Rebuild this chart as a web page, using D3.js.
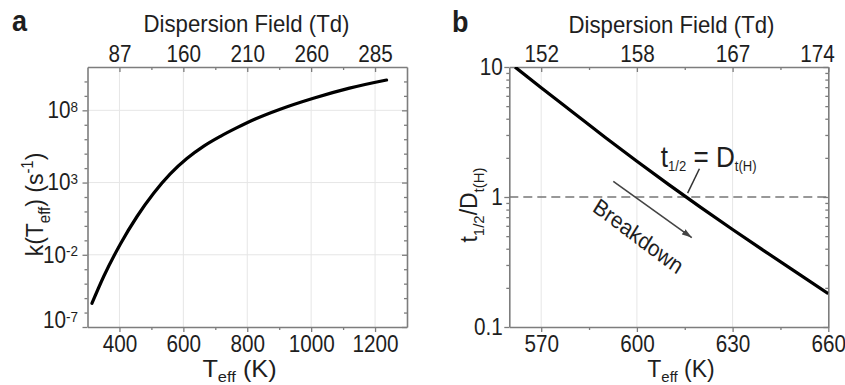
<!DOCTYPE html>
<html>
<head>
<meta charset="utf-8">
<script src="https://cdn.jsdelivr.net/npm/d3@7"></script>
<style>
  body { margin: 0; background: #fff; }
  text { font-family: "Liberation Sans", Arial, sans-serif; }
</style>
</head>
<body>
<svg id="chart"></svg>
<script>
// ---- panel a : k(Teff) vs Teff ----
const aTeff = [314, 351, 403, 455, 507, 559, 611, 664, 716, 768, 825, 903, 1007, 1120, 1236];
const aLog10K = [-5.36, -3.49, -1.25, 0.65, 2.26, 3.60, 4.66, 5.52, 6.20, 6.80, 7.40, 8.08, 8.84, 9.54, 10.1];
const aXTicks = [400, 600, 800, 1000, 1200];
const aXMinor = [500, 700, 900, 1100];
const aTopLabels = ["87", "160", "210", "260", "285"];
const aYExp = [-7, -2, 3, 8];

// ---- panel b : t1/2 / Dt(H) vs Teff ----
const bTeff = [561.8, 570, 580, 590, 600, 610, 620, 630, 640, 650, 660];
const bLog10Ratio = [1.0, 0.84, 0.65, 0.46, 0.275, 0.095, -0.08, -0.25, -0.416, -0.58, -0.743];
const bXTicks = [570, 600, 630, 660];
const bXMinor = [585, 615, 645];
const bTopLabels = ["152", "158", "167", "174"];
const bYTicks = [0.1, 1, 10];

const width = 845, height = 385;
const SX = 0.9; // tick text in the reference is a bit narrower than tall
const AXIS = "#7d7d7d", INK = "#1e1e1e", GRID = "#e6e6e6";

const svg = d3.select("#chart").attr("width", width).attr("height", height);

svg.append("defs").append("marker")
  .attr("id", "arrow")
  .attr("markerUnits", "userSpaceOnUse")
  .attr("markerWidth", 12).attr("markerHeight", 8)
  .attr("refX", 10).attr("refY", 4)
  .attr("orient", "auto")
  .append("path").attr("d", "M0,0.8 L10,4 L0,7.2 Z").attr("fill", "#444");

// text with sub/superscripts
function rich(parent, x, y, parts, size, opts = {}) {
  let tr = `translate(${x},${y}) scale(${opts.sx || SX},1)`;
  if (opts.rotate) tr += ` rotate(${opts.rotate})`;
  const t = parent.append("text")
    .attr("transform", tr)
    .attr("font-size", size)
    .attr("font-weight", opts.weight || null)
    .attr("text-anchor", opts.anchor || "middle")
    .attr("fill", INK);
  const small = opts.small || 0.65, sub = opts.sub || 0.3;
  let shift = 0;
  parts.forEach(p => {
    const kind = p[1];
    const target = kind === "sub" ? size * sub : kind === "sup" ? -size * 0.42 : 0;
    t.append("tspan")
      .attr("dy", target - shift)
      .attr("font-size", kind ? size * small : size)
      .text(p[0]);
    shift = target;
  });
  return t;
}

function styleAxis(g) {
  g.attr("font-family", null).attr("font-size", 23);
  g.select(".domain").attr("stroke", AXIS).attr("stroke-width", 1.6);
  g.selectAll(".tick line").attr("stroke", AXIS).attr("stroke-width", 1.3);
  g.selectAll(".tick text").attr("fill", INK).each(function () {
    const t = d3.select(this);
    const x = +t.attr("x") || 0, y = +t.attr("y") || 0;
    t.attr("x", null).attr("y", null)
      .attr("transform", `translate(${x},${y}) scale(${SX},1)`);
  });
}

function frame(g, x, y, o) {
  const [x0, x1] = x.range();
  const [y0, y1] = y.range();

  // grid
  g.append("g").selectAll("line").data(o.xGrid).join("line")
    .attr("x1", d => x(d)).attr("x2", d => x(d))
    .attr("y1", y0).attr("y2", y1)
    .attr("stroke", GRID).attr("stroke-width", 1);
  g.append("g").selectAll("line").data(o.yGrid).join("line")
    .attr("x1", x0).attr("x2", x1)
    .attr("y1", d => y(d)).attr("y2", d => y(d))
    .attr("stroke", GRID).attr("stroke-width", 1);

  const noDomain = s => s.select(".domain").remove();

  // bottom
  g.append("g").attr("transform", `translate(0,${y0})`)
    .call(d3.axisBottom(x).tickValues(o.xMinor).tickSize(3).tickFormat(""))
    .call(styleAxis).call(noDomain);
  g.append("g").attr("transform", `translate(0,${y0})`)
    .call(d3.axisBottom(x).tickValues(o.xTicks).tickSize(5).tickSizeOuter(0).tickPadding(4)
      .tickFormat(d3.format("d")))
    .call(styleAxis);

  // top (ticks inward)
  g.append("g").attr("transform", `translate(0,${y1})`)
    .call(d3.axisTop(x).tickValues(o.xMinor).tickSizeInner(-3).tickSizeOuter(0).tickFormat(""))
    .call(styleAxis).call(noDomain);
  g.append("g").attr("transform", `translate(0,${y1})`)
    .call(d3.axisTop(x).tickValues(o.xTicks).tickSizeInner(-5).tickSizeOuter(0).tickPadding(5)
      .tickFormat((d, i) => o.topLabels[i]))
    .call(styleAxis)
    .call(s => s.selectAll(".tick text").attr("dy", "0em"));

  // left
  g.append("g").attr("transform", `translate(${x0},0)`)
    .call(d3.axisLeft(y).tickValues(o.yMinor).tickSize(3).tickFormat(""))
    .call(styleAxis).call(noDomain);
  const left = g.append("g").attr("transform", `translate(${x0},0)`)
    .call(d3.axisLeft(y).tickValues(o.yTicks).tickSize(5).tickSizeOuter(0).tickPadding(o.leftPad)
      .tickFormat(o.yFormat || null))
    .call(styleAxis);

  // right (ticks inward)
  g.append("g").attr("transform", `translate(${x1},0)`)
    .call(d3.axisRight(y).tickValues(o.yMinor).tickSizeInner(-3).tickSizeOuter(0).tickFormat(""))
    .call(styleAxis).call(noDomain);
  g.append("g").attr("transform", `translate(${x1},0)`)
    .call(d3.axisRight(y).tickValues(o.yTicks).tickSizeInner(-5).tickSizeOuter(0).tickFormat(""))
    .call(styleAxis);

  return left;
}

// ================= panel a =================
const ax = d3.scaleLinear().domain([300, 1300]).range([87.5, 407]);
const ay = d3.scaleLog().domain([1e-7, 1e11]).range([327, 67]);
const ga = svg.append("g");

const aYMinor = d3.range(-6, 11).filter(e => !aYExp.includes(e)).map(e => Math.pow(10, e));
const aLeft = frame(ga, ax, ay, {
  xTicks: aXTicks, xMinor: aXMinor, topLabels: aTopLabels,
  yTicks: aYExp.map(e => Math.pow(10, e)), yMinor: aYMinor,
  xGrid: aXTicks, yGrid: aYExp.slice(1).map(e => Math.pow(10, e)),
  leftPad: 4.5, yFormat: () => ""
});
// 10^n labels
aLeft.selectAll(".tick text").each(function (d) {
  const t = d3.select(this);
  const e = Math.round(Math.log10(d));
  t.append("tspan").text("10");
  t.append("tspan").attr("dy", "-0.42em").attr("font-size", 15).text(e);
  if (e === -7) {
    t.attr("transform", t.attr("transform").replace("translate(-9.5,0)", "translate(-9.5,-7)"));
  }
});

ga.append("clipPath").attr("id", "clipA").append("rect")
  .attr("x", 87.5).attr("y", 67).attr("width", 407 - 87.5).attr("height", 260);
ga.append("path")
  .datum(aTeff.map((t, i) => [t, Math.pow(10, aLog10K[i])]))
  .attr("clip-path", "url(#clipA)")
  .attr("fill", "none").attr("stroke", "#000").attr("stroke-width", 3.2)
  .attr("stroke-linecap", "round")
  .attr("d", d3.line().x(d => ax(d[0])).y(d => ay(d[1])).curve(d3.curveMonotoneX));

rich(ga, 12, 31, [["a"]], 30, { anchor: "start", weight: "bold" });
rich(ga, 246.5, 31.7, [["Dispersion Field (Td)"]], 23, { sx: 0.965 });
rich(ga, 239.5, 377, [["T"], ["eff", "sub"], [" (K)"]], 23, { sx: 1.1, sub: 0.22 });
rich(ga, 43, 204.5, [["k(T"], ["eff", "sub"], [") (s"], ["-1", "sup"], [")"]], 23, { rotate: -90, sx: 1.05 });

// ================= panel b =================
const bx = d3.scaleLinear().domain([560, 660]).range([509.3, 828.3]);
const by = d3.scaleLog().domain([0.1, 10]).range([327, 67]);
const gb = svg.append("g");

const bYMinor = [0.2, 0.3, 0.4, 0.5, 0.6, 0.7, 0.8, 0.9, 2, 3, 4, 5, 6, 7, 8, 9];
frame(gb, bx, by, {
  xTicks: bXTicks, xMinor: bXMinor, topLabels: bTopLabels,
  yTicks: bYTicks, yMinor: bYMinor,
  xGrid: bXTicks.slice(0, 3), yGrid: [],
  leftPad: 1.5, yFormat: d => String(d)
});
// last top label sits left of its tick in the reference
gb.selectAll(".tick text").filter(function () { return d3.select(this).text() === "174"; })
  .attr("dx", "-0.55em");

gb.append("line")
  .attr("x1", bx(560)).attr("x2", bx(660)).attr("y1", by(1)).attr("y2", by(1))
  .attr("stroke", "#777").attr("stroke-width", 1.6).attr("stroke-dasharray", "9,5");

gb.append("clipPath").attr("id", "clipB").append("rect")
  .attr("x", 509.3).attr("y", 67).attr("width", 828.3 - 509.3).attr("height", 260);
gb.append("path")
  .datum(bTeff.map((t, i) => [t, Math.pow(10, bLog10Ratio[i])]))
  .attr("clip-path", "url(#clipB)")
  .attr("fill", "none").attr("stroke", "#000").attr("stroke-width", 3.2)
  .attr("d", d3.line().x(d => bx(d[0])).y(d => by(d[1])).curve(d3.curveMonotoneX));

// annotations
gb.append("line")
  .attr("x1", bx(592.6)).attr("y1", by(1.32)).attr("x2", bx(617.2)).attr("y2", by(0.487))
  .attr("stroke", "#444").attr("stroke-width", 1.6).attr("marker-end", "url(#arrow)");
gb.append("line")
  .attr("x1", bx(619.6)).attr("y1", by(1.65)).attr("x2", bx(615.9)).attr("y2", by(1.07))
  .attr("stroke", "#333").attr("stroke-width", 1.5);
rich(gb, bx(607.5), by(1.70), [["t"], ["1/2", "sub"], [" = D"], ["t(H)", "sub"]], 29,
  { anchor: "start", small: 0.5, sub: 0.14 });
rich(gb, bx(599.2), by(0.445), [["Breakdown"]], 23, { rotate: 34.2 });

rich(gb, 452, 32, [["b"]], 30, { anchor: "start", weight: "bold" });
rich(gb, 671.5, 33, [["Dispersion Field (Td)"]], 23, { sx: 0.965 });
rich(gb, 681, 377, [["T"], ["eff", "sub"], [" (K)"]], 23, { sx: 1.0, sub: 0.22 });
rich(gb, 477, 205, [["t"], ["1/2", "sub"], ["/D"], ["t(H)", "sub"]], 23, { rotate: -90, sx: 1.0 });
</script>
</body>
</html>
